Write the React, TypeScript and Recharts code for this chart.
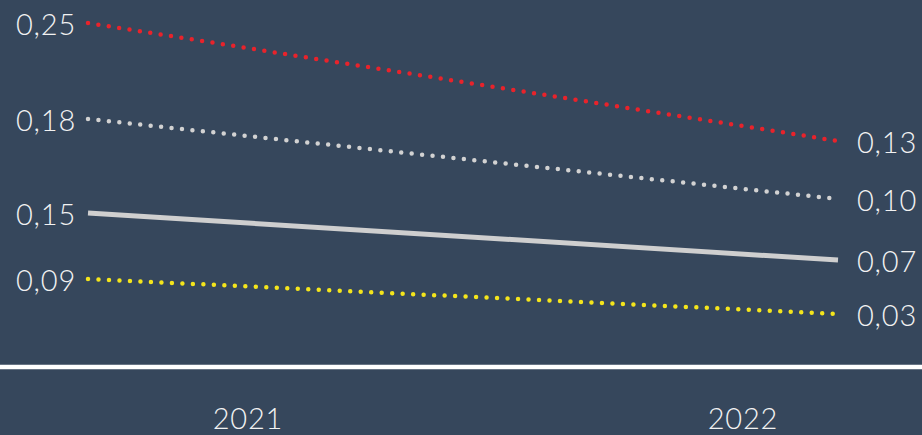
import React from 'react';
import { LineChart, Line, XAxis, YAxis } from 'recharts';

const years = ['2021', '2022'];
const redSeries = [0.25, 0.13];
const lightSeries = [0.18, 0.10];
const solidSeries = [0.15, 0.07];
const yellowSeries = [0.09, 0.03];

const data = years.map((year, i) => ({
  year,
  red: redSeries[i],
  light: lightSeries[i],
  solid: solidSeries[i],
  yellow: yellowSeries[i],
}));

const FONT = 'Lato, "Open Sans", sans-serif';
const fmt = (v: number) => v.toFixed(2).replace('.', ',');

const renderLabel = (props: any) => {
  const { x, y, value, index } = props;
  const left = index === 0;
  return (
    <text
      x={left ? x - 12 : x + 19}
      y={y}
      dy="0.4em"
      textAnchor={left ? 'end' : 'start'}
      fill="#f2f2f2"
      fontSize={29}
      fontWeight={300}
      letterSpacing={0.8}
      fontFamily={FONT}
    >
      {fmt(Number(value))}
    </text>
  );
};

const lineCommon = {
  xAxisId: 'pts',
  dot: false,
  activeDot: false,
  isAnimationActive: false,
  label: renderLabel,
} as const;

export default function App() {
  return (
    <div style={{ position: 'fixed', left: 0, top: 0, width: 922, height: 435, background: '#36475c' }}>
      <LineChart width={922} height={435} data={data} margin={{ top: 0, right: 0, bottom: 0, left: 0 }}>
        <XAxis xAxisId="pts" dataKey="year" hide padding={{ left: 88, right: 84 }} />
        <XAxis
          xAxisId="lbl"
          dataKey="year"
          height={68}
          padding={{ left: 248, right: 179 }}
          axisLine={{ stroke: '#ffffff', strokeWidth: 4.5 }}
          tickLine={false}
          tickSize={6}
          tickMargin={35}
          tick={{ fill: '#f2f2f2', fontSize: 29, fontWeight: 300, fontFamily: FONT, letterSpacing: 0.8 }}
        />
        <YAxis yAxisId="r" hide type="number" domain={[-0.0998, 0.2734]} allowDataOverflow />
        <YAxis yAxisId="l" hide type="number" domain={[-0.068, 0.299]} allowDataOverflow />
        <YAxis yAxisId="s" hide type="number" domain={[-0.1121, 0.5126]} allowDataOverflow />
        <YAxis yAxisId="y" hide type="number" domain={[-0.0609, 0.5683]} allowDataOverflow />
        <Line {...lineCommon} yAxisId="r" dataKey="red" stroke="#e8232b" strokeWidth={4.5} strokeDasharray="0 10.5" strokeLinecap="round" />
        <Line {...lineCommon} yAxisId="l" dataKey="light" stroke="#d2d2d2" strokeWidth={4.5} strokeDasharray="0 10.5" strokeLinecap="round" />
        <Line {...lineCommon} yAxisId="s" dataKey="solid" stroke="#cfcfcf" strokeWidth={5} />
        <Line {...lineCommon} yAxisId="y" dataKey="yellow" stroke="#f4e51c" strokeWidth={4.5} strokeDasharray="0 10.5" strokeLinecap="round" />
      </LineChart>
    </div>
  );
}
